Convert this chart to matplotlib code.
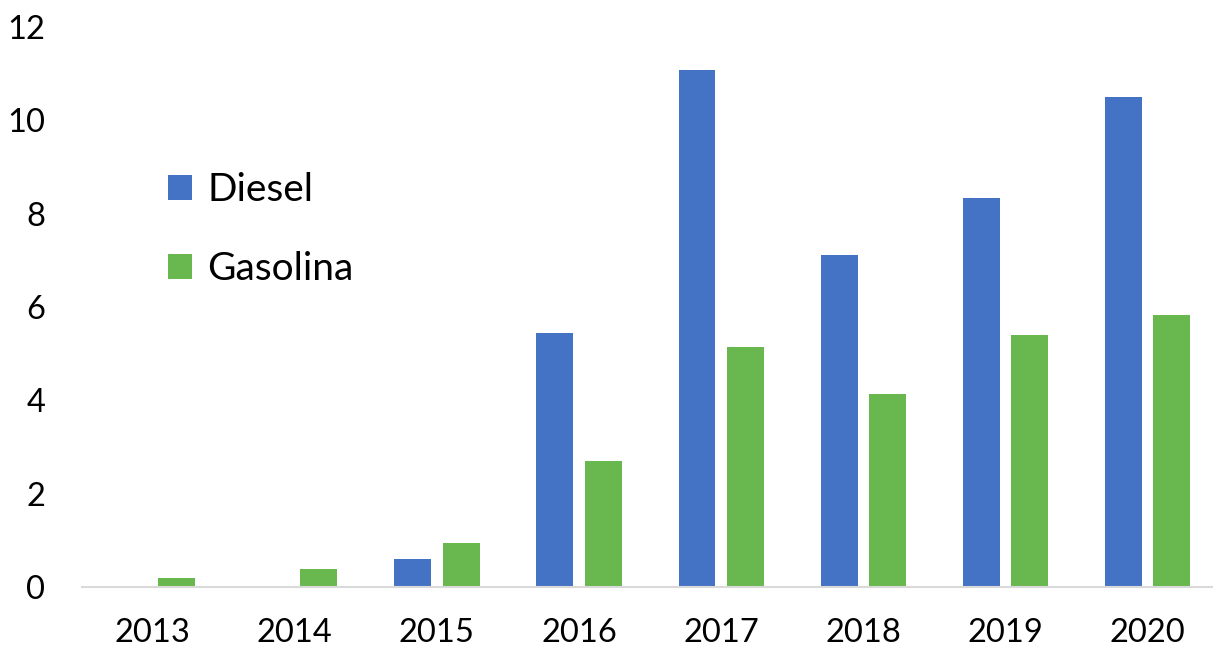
import numpy as np
import matplotlib.pyplot as plt

plt.rcParams['font.family'] = ['Lato', 'DejaVu Sans']

years = ['2013', '2014', '2015', '2016', '2017', '2018', '2019', '2020']
diesel = [0.0, 0.03, 0.6, 5.44, 11.07, 7.11, 8.33, 10.51]
gasolina = [0.19, 0.39, 0.94, 2.7, 5.14, 4.13, 5.4, 5.82]

fig = plt.figure(figsize=(12.13, 6.5), dpi=100)
ax = fig.add_axes([81.5 / 1213, 63 / 650, 1 - 81.5 / 1213, 560 / 650])

x = np.arange(len(years))
w = 0.26
off = 0.17
ax.bar(x - off, diesel, w, color='#4472C4', label='Diesel')
ax.bar(x + off, gasolina, w, color='#68B74F', label='Gasolina')

ax.set_xlim(-0.5, 7.46)
ax.set_ylim(0, 12)
ax.set_yticks(range(0, 13, 2))
ax.set_xticks(x)
ax.set_xticklabels(years)

for s in ['top', 'right', 'left']:
    ax.spines[s].set_visible(False)
ax.spines['bottom'].set_color('#d9d9d9')
ax.spines['bottom'].set_linewidth(1.5)
ax.tick_params(axis='both', length=0, labelsize=23.5, colors='black')
ax.tick_params(axis='y', pad=26)
ax.tick_params(axis='x', pad=22)

ax.legend(loc='upper left', bbox_to_anchor=(0.063, 0.768), frameon=False,
          fontsize=28, handlelength=0.6, handleheight=0.6,
          handletextpad=0.4, labelspacing=1.1, borderaxespad=0)

fig.savefig('out.png', dpi=100)
